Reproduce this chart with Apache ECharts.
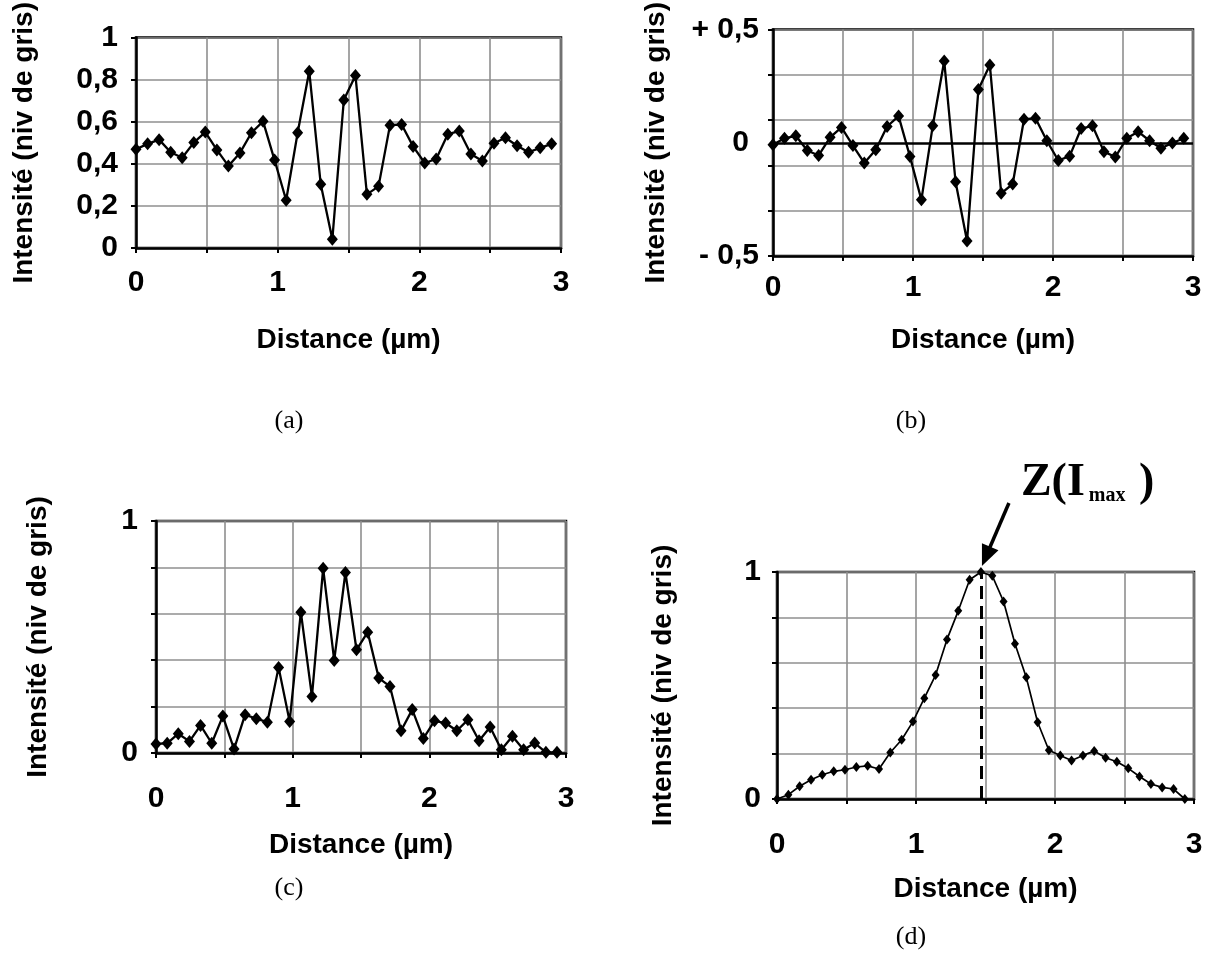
<!DOCTYPE html>
<html><head><meta charset="utf-8">
<script src="https://cdn.jsdelivr.net/npm/echarts@6/dist/echarts.min.js"></script>
<style>html,body{margin:0;padding:0;background:#fff}#c{width:1212px;height:975px}</style>
</head><body><div id="c"></div>
<script>
// Sampling positions along the profile (µm)
const distance = [0,0.082,0.163,0.245,0.326,0.408,0.489,0.571,0.652,0.734,0.815,0.897,0.978,1.060,1.141,1.223,1.304,1.386,1.467,1.549,1.630,1.712,1.793,1.875,1.956,2.038,2.119,2.201,2.282,2.364,2.445,2.527,2.608,2.690,2.771,2.853,2.934];
// (a) raw intensity
const profileA = [0.469,0.495,0.515,0.455,0.429,0.501,0.551,0.466,0.390,0.452,0.548,0.602,0.418,0.227,0.548,0.840,0.303,0.042,0.703,0.820,0.255,0.293,0.584,0.587,0.483,0.404,0.423,0.541,0.556,0.447,0.414,0.498,0.524,0.486,0.455,0.476,0.495];
// (b) centred intensity
const profileB = [-0.009,0.020,0.031,-0.034,-0.056,0.024,0.068,-0.012,-0.089,-0.031,0.072,0.118,-0.060,-0.252,0.075,0.361,-0.172,-0.434,0.235,0.344,-0.223,-0.182,0.104,0.108,0.009,-0.078,-0.059,0.063,0.075,-0.039,-0.063,0.020,0.049,0.009,-0.024,-0.001,0.020];
// (c)
const profileC = [0.039,0.042,0.083,0.050,0.119,0.042,0.159,0.017,0.165,0.148,0.133,0.369,0.136,0.607,0.244,0.796,0.399,0.778,0.445,0.521,0.323,0.287,0.096,0.187,0.062,0.139,0.129,0.096,0.143,0.053,0.112,0.014,0.072,0.014,0.043,0.003,0.003];
// (d)
const profileD = [0,0.019,0.056,0.085,0.107,0.122,0.129,0.141,0.146,0.132,0.205,0.261,0.341,0.444,0.546,0.703,0.829,0.966,1.0,0.983,0.870,0.684,0.536,0.338,0.215,0.192,0.170,0.192,0.211,0.182,0.164,0.135,0.099,0.066,0.051,0.044,0];
const zMaxDistance = 1.467;

// Tick labels
const xTickLabels = {0:'0',1:'1',2:'2',3:'3'};
const yLabelsA = {0:'0',0.2:'0,2',0.4:'0,4',0.6:'0,6',0.8:'0,8',1:'1'};
const yLabelsB = {'0.5':'+ 0,5','-0.5':'- 0,5'};
const yLabelsCD = {0:'0',1:'1'};
const yName = 'Intensité (niv de gris)';
const xName = 'Distance (µm)';
const captions = ['(a)','(b)','(c)','(d)'];

const FONT = 'Liberation Sans, Arial, sans-serif';
const SERIF = 'Liberation Serif, Times New Roman, serif';

const grids = [
  {left:136, top:17, width:425, height:231},
  {left:773, top:26, width:420, height:230},
  {left:156, top:521, width:410, height:232},
  {left:777, top:572, width:417, height:227}
];
const xMargins = [20, 17, 31, 31];
const yMargins = [18, 14, 18, 16];
const xGaps = [78, 70, 78, 76];
const yGaps = [98, 103, 104, 100];

function r1(v){ return Math.round(v*10)/10; }

const chart = echarts.init(document.getElementById('c'), null, {renderer:'canvas'});

const xAxes = grids.map((g,i)=>({
  type:'value', gridIndex:i, min:0, max:3, interval:0.5,
  name:xName, nameLocation:'middle', nameGap:xGaps[i],
  nameTextStyle:{fontFamily:FONT, fontSize:28, fontWeight:'bold', color:'#000'},
  axisLine:{show:true, onZero:false, lineStyle:{color:'#000', width:2.5}},
  axisTick:{show:true, length:5, lineStyle:{color:'#000', width:2}},
  axisLabel:{margin:xMargins[i], fontFamily:FONT, fontSize:30, fontWeight:'bold', color:'#000',
    formatter:v=>{ const k=r1(v); return xTickLabels[k]!==undefined ? xTickLabels[k] : ''; }},
  splitLine:{show:true, lineStyle:{color:'#8f8f8f', width:1.6}}
}));

const yLabelSets = [yLabelsA, yLabelsB, yLabelsCD, yLabelsCD];
const yAxes = grids.map((g,i)=>({
  type:'value', gridIndex:i,
  min: i===1 ? -0.5 : 0, max: i===1 ? 0.5 : 1, interval:0.2,
  name:yName, nameLocation:'middle', nameGap:yGaps[i],
  nameTextStyle:{fontFamily:FONT, fontSize:28, fontWeight:'bold', color:'#000'},
  axisLine:{show:true, onZero:false, lineStyle:{color:'#000', width:2.5}},
  axisTick:{show:true, length:5, lineStyle:{color:'#000', width:2}},
  axisLabel:{margin:yMargins[i], fontFamily:FONT, fontSize:30, fontWeight:'bold', color:'#000',
    formatter:v=>{ const k=String(r1(v)); const s=yLabelSets[i][k]; return s!==undefined ? s : ''; }},
  splitLine:{show:true, lineStyle:{color:'#8f8f8f', width:1.6}}
}));

function mkSeries(idx, vals, size, width){
  return {
    type:'line', xAxisIndex:idx, yAxisIndex:idx,
    data: distance.map((d,k)=>[d, vals[k]]),
    symbol:'diamond', symbolSize:size, showSymbol:true, showAllSymbol:true,
    lineStyle:{color:'#000', width:width}, itemStyle:{color:'#000'},
    clip:false, animation:false, z:5
  };
}

const sA = mkSeries(0, profileA, [11,13], 2.3);
const sB = mkSeries(1, profileB, [11,13], 2.3);
sB.markLine = {silent:true, symbol:'none', animation:false,
  data:[{yAxis:0}],
  lineStyle:{color:'#000', width:2.5, type:'solid'},
  label:{show:true, position:'start', formatter:'0', distance:24, fontFamily:FONT, fontSize:30, fontWeight:'bold', color:'#000'}};
const sC = mkSeries(2, profileC, [11,13], 2.3);
const sD = mkSeries(3, profileD, [8,10], 1.7);
sD.markLine = {silent:true, symbol:'none', animation:false,
  data:[{xAxis:zMaxDistance}],
  lineStyle:{color:'#000', width:3, type:[13,7]},
  label:{show:false}};

chart.setOption({
  animation:false,
  backgroundColor:'#fff',
  grid: grids.map(g=>Object.assign({show:true, borderColor:'#000', borderWidth:2.5, backgroundColor:'transparent'}, g)),
  xAxis:xAxes, yAxis:yAxes,
  series:[sA,sB,sC,sD]
});

// Annotation + captions
const tip0 = chart.convertToPixel({gridIndex:3}, [zMaxDistance, 1]);
const tip = [tip0[0]+1, tip0[1]-6];
const start = [tip[0]+27, tip[1]-63];
const dx = tip[0]-start[0], dy = tip[1]-start[1];
const L = Math.sqrt(dx*dx+dy*dy);
const ux = dx/L, uy = dy/L, nx = -uy, ny = ux;
const headLen = 21, headW = 9;
const base = [tip[0]-ux*headLen, tip[1]-uy*headLen];

const capPos = [[289,421],[911,421],[289,888],[911,937]];

chart.setOption({
  graphic:[
    {type:'line', shape:{x1:start[0], y1:start[1], x2:base[0]+ux*2, y2:base[1]+uy*2}, style:{stroke:'#000', lineWidth:3.5}, z:20},
    {type:'polygon', shape:{points:[tip,[base[0]+nx*headW, base[1]+ny*headW],[base[0]-nx*headW, base[1]-ny*headW]]}, style:{fill:'#000'}, z:20},
    {type:'text', x:start[0]+12, y:start[1]+3, z:20,
      style:{text:'{big|Z(I}{sub|max}{big| )}', textVerticalAlign:'bottom',
        rich:{
          big:{fontFamily:SERIF, fontWeight:'bold', fontSize:46, fill:'#000', verticalAlign:'bottom', lineHeight:46},
          sub:{fontFamily:SERIF, fontWeight:'bold', fontSize:20, fill:'#000', verticalAlign:'bottom', lineHeight:46, padding:[0,2,0,4]}
        }}},
    ...captions.map((c,i)=>({type:'text', x:capPos[i][0], y:capPos[i][1], z:20,
      style:{text:c, fontFamily:SERIF, fontSize:26, fill:'#000', textAlign:'center', textVerticalAlign:'middle'}}))
  ]
});
</script></body></html>
